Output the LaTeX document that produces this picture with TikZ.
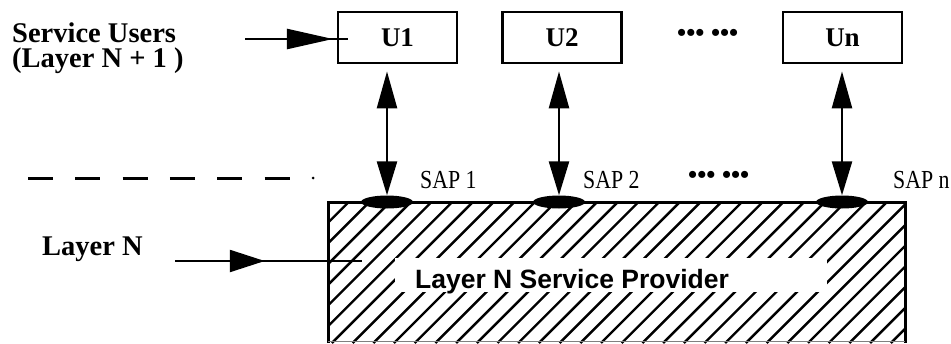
\documentclass[tikz,border=0pt]{standalone}
\usepackage{fontspec}
\setmainfont{Liberation Serif}
\setsansfont{Liberation Sans}
\usetikzlibrary{arrows.meta,shapes.geometric,decorations.markings}
\begin{document}
\begin{tikzpicture}[x=1pt,y=-1pt,
  ubox/.style={draw, line width=2.8pt, minimum width=119pt, minimum height=51pt, inner sep=0pt,
    font=\fontsize{27}{27}\selectfont\bfseries},
  lbl/.style={inner sep=0pt, anchor=base west, font=\fontsize{28.5}{30}\selectfont\bfseries},
  saplbl/.style={inner sep=0pt, anchor=base west,
    font=\fontsize{26}{26}\selectfont\addfontfeature{FakeStretch=0.84}},
  dotlbl/.style={inner sep=0pt, anchor=base west, font=\fontsize{26}{26}\selectfont\bfseries},
  sapell/.style={ellipse, fill=black, minimum width=52pt, minimum height=13pt, inner sep=0pt},
  dbl/.style={line width=2.5pt, {Triangle[length=37pt,width=20pt]}-{Triangle[length=34pt,width=20pt]}},
  midarrow/.style n args={3}{line width=2.3pt, decoration={markings,
      mark=at position #1 with {\arrow{Triangle[length=#2,width=#3]}}}, postaction={decorate}}
]
\useasboundingbox (0,0) rectangle (951,343);

% hatched provider block
\begin{scope}
  \clip (328,202) rectangle (905,343);
  \foreach \i in {0,...,36} \draw[line width=2.4pt] ({187+\i*20.7},343) -- ++(141,-141);
\end{scope}
\fill[white] (395,258) rectangle (827,292);
\node[inner sep=0pt, anchor=base west, font=\fontsize{26.5}{26.5}\selectfont\sffamily\bfseries]
  (prov) at (415,288) {Layer N Service Provider};
\draw[line width=3pt] (328,343) -- (328,202) -- (905,202) -- (905,343);
\draw[line width=1pt, gray] (328,341) -- (905,341);

% dashed boundary
\draw[line width=3pt, dash pattern=on 25pt off 22.3pt] (28,178) -- (290,178);
\fill (313,178) circle (1.5pt);

% users
\node[ubox] (u1) at (397.5,37.5) {U1};
\node[ubox] (u2) at (562,37.5) {U2};
\node[ubox] (un) at (842.5,37.5) {Un};
\node[dotlbl] (dtop) at (677,41) {••• •••};

% SAPs
\node[sapell] (sap1) at (387,202) {};
\node[sapell] (sap2) at (559,202) {};
\node[sapell] (sapn) at (842,202) {};
\node[saplbl] (s1) at (420,188) {SAP 1};
\node[saplbl] (s2) at (583,188) {SAP 2};
\node[saplbl] (sn) at (893,188) {SAP n};
\node[dotlbl] (dsap) at (688,183) {••• •••};

\draw[dbl] ([yshift=-7pt]u1.south -| sap1) -- (sap1.north);
\draw[dbl] ([yshift=-7pt]u2.south -| sap2) -- (sap2.north);
\draw[dbl] ([yshift=-7pt]un.south -| sapn) -- (sapn.north);

% labels
\node[inner sep=0pt, anchor=north west, align=left, font=\fontsize{28.5}{25}\selectfont\bfseries]
  (su) at (12,22.5) {Service Users\\(Layer N + 1 )};
\node[lbl] (ln) at (42,255) {Layer N};

\coordinate (suA) at (245,39);
\coordinate (suB) at (348,39);
\draw[midarrow={0.854}{46pt}{20pt}] (suA) -- (suB);
\coordinate (lnA) at (175,261);
\coordinate (lnB) at (362,261);
\draw[midarrow={0.48}{35pt}{22pt}] (lnA) -- (lnB);
\end{tikzpicture}
\end{document}
